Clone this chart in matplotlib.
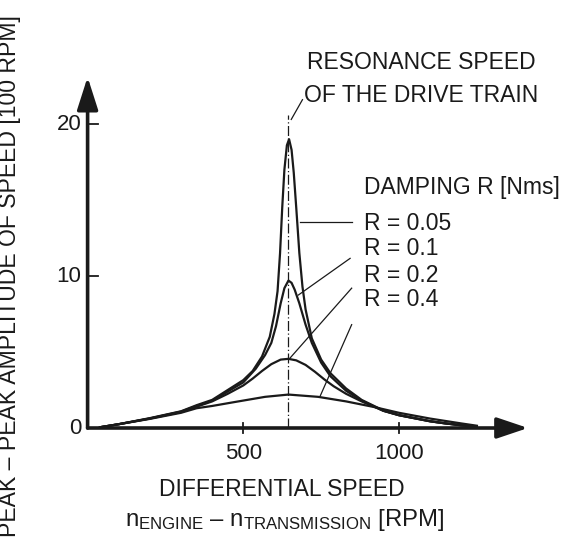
import matplotlib
matplotlib.use("Agg")
import matplotlib.pyplot as plt

plt.rcParams['font.family'] = ['Liberation Sans', 'DejaVu Sans']
plt.rcParams['mathtext.fontset'] = 'custom'
plt.rcParams['mathtext.rm'] = 'Liberation Sans'

# ---------------- data ----------------
resonance_speed = 645
x_ticks = [500, 1000]
y_ticks = [0, 10, 20]
damping_labels = ["R = 0.05", "R = 0.1", "R = 0.2", "R = 0.4"]

x_r005 = [40, 100, 200, 300, 350, 400, 450, 500, 530, 560, 585, 600, 610, 618, 625, 632, 640, 647,
          655, 662, 670, 680, 690, 700, 720, 750, 780, 830, 880, 920, 950, 1000, 1050, 1100, 1150, 1200, 1250]
y_r005 = [0.05, 0.25, 0.65, 1.1, 1.5, 1.85, 2.5, 3.15, 3.75, 4.7, 6.0, 7.5, 9.0, 11.5, 14.5, 17.0, 18.6, 19.0,
          18.3, 16.8, 14.5, 11.5, 9.3, 7.8, 5.9, 4.5, 3.6, 2.6, 1.85, 1.45, 1.15, 0.85, 0.65, 0.45, 0.3, 0.18, 0.1]

x_r01 = [40, 100, 200, 300, 350, 400, 450, 500, 540, 570, 590, 605, 620, 632, 645,
         655, 665, 680, 700, 720, 750, 780, 830, 880, 920, 950, 1000, 1050, 1100, 1150, 1200, 1250]
y_r01 = [0.05, 0.25, 0.63, 1.08, 1.45, 1.8, 2.4, 3.0, 3.9, 4.8, 5.6, 6.7, 8.2, 9.2, 9.7,
         9.55, 9.1, 8.2, 6.8, 5.6, 4.3, 3.4, 2.45, 1.8, 1.42, 1.13, 0.84, 0.64, 0.44, 0.3, 0.18, 0.1]

x_r02 = [40, 100, 200, 300, 350, 400, 450, 500, 530, 560, 590, 620, 645, 670, 700, 730, 760, 790,
         830, 880, 920, 950, 1000, 1050, 1100, 1150, 1200, 1250]
y_r02 = [0.05, 0.25, 0.62, 1.05, 1.4, 1.75, 2.25, 2.8, 3.25, 3.75, 4.2, 4.5, 4.55, 4.45, 4.15, 3.7, 3.2, 2.75,
         2.25, 1.75, 1.4, 1.13, 0.84, 0.64, 0.44, 0.3, 0.18, 0.1]

x_r04 = [40, 100, 200, 300, 350, 400, 470, 570, 645, 740, 830, 920, 1000, 1100, 1200, 1250]
y_r04 = [0.05, 0.25, 0.6, 1.0, 1.3, 1.45, 1.7, 2.05, 2.2, 2.05, 1.75, 1.38, 1.0, 0.62, 0.3, 0.15]

# leader line anchor points on the curves (data units)
lead_start_x = [682, 677, 650, 746]
lead_start_y = [13.57, 8.75, 4.6, 2.06]
lead_end_x = [848, 843, 848, 848]
lead_end_y = [13.57, 11.16, 9.2, 6.8]

# ---------------- figure ----------------
W, H = 579, 550
fig = plt.figure(figsize=(W / 100, H / 100), dpi=100)
x0px, y0px = 87.6, 428.0
xr_px, yt_px = 528.0, 77.0
ax = fig.add_axes([x0px / W, (H - y0px) / H, (xr_px - x0px) / W, (y0px - yt_px) / H])
xmax = (xr_px - x0px) / 0.3114
ymax = (y0px - yt_px) / 15.2
ax.set_xlim(0, xmax)
ax.set_ylim(0, ymax)
ax.axis('off')

ink = '#1a1a1a'
fs = 16.5

for xs, ys in [(x_r005, y_r005), (x_r01, y_r01), (x_r02, y_r02), (x_r04, y_r04)]:
    ax.plot(xs, ys, color=ink, lw=1.6, solid_joinstyle='round', clip_on=False)

# axes with arrows
ax.annotate('', xy=(xmax, 0), xytext=(0, 0),
            arrowprops=dict(arrowstyle='-|>,head_length=0.95,head_width=0.32', mutation_scale=20,
                            lw=2.6, color=ink, shrinkA=0, shrinkB=0), annotation_clip=False)
ax.annotate('', xy=(0, ymax), xytext=(0, 0),
            arrowprops=dict(arrowstyle='-|>,head_length=1.0,head_width=0.32', mutation_scale=20,
                            lw=2.6, color=ink, shrinkA=0, shrinkB=0), annotation_clip=False)

# ticks
for t in y_ticks[1:]:
    ax.plot([-3, 33], [t, t], color=ink, lw=1.3, clip_on=False)
for t in y_ticks:
    ax.text(-20, t, str(t), ha='right', va='center', fontsize=16, color=ink)
for t in x_ticks:
    ax.plot([t, t], [-0.35, 0.35], color=ink, lw=1.3, clip_on=False)
    ax.text(t, -1.0, str(t), ha='center', va='top', fontsize=16, color=ink)

# resonance dash-dot line
ax.plot([resonance_speed, resonance_speed], [0, 20.6], color=ink, lw=0.9, ls=(0, (8, 2, 1, 2)))
ax.plot([654, 690], [20.3, 21.6], color=ink, lw=0.9)
fig.text(307 / W, 1 - 62 / H, 'RESONANCE SPEED', fontsize=fs, color=ink, va='center', ha='left')
fig.text(304 / W, 1 - 96 / H, 'OF THE DRIVE TRAIN', fontsize=fs, color=ink, va='center', ha='left')

# damping labels
fig.text(364 / W, 1 - 187 / H, 'DAMPING R [Nms]', fontsize=fs, color=ink, va='center', ha='left')
label_y_px = [223, 249, 275, 300]
for lab, ly in zip(damping_labels, label_y_px):
    fig.text(364 / W, 1 - ly / H, lab, fontsize=fs, color=ink, va='center', ha='left')
for sx, sy, ex, ey in zip(lead_start_x, lead_start_y, lead_end_x, lead_end_y):
    ax.plot([sx, ex], [sy, ey], color=ink, lw=0.9)

# axis labels
fig.text(282 / W, 1 - 490 / H, 'DIFFERENTIAL SPEED', fontsize=fs, color=ink, va='center', ha='center')
fig.text(285 / W, 1 - 520 / H, r'$\mathregular{n_{ENGINE}}$ – $\mathregular{n_{TRANSMISSION}}$ [RPM]',
         fontsize=17.2, color=ink, va='center', ha='center')
fig.text(10 / W, 1 - 276 / H, 'PEAK – PEAK AMPLITUDE OF SPEED [100 RPM]', fontsize=16.6, color=ink,
         va='center', ha='center', rotation=90)

fig.savefig('out.png', dpi=100, facecolor='white')
